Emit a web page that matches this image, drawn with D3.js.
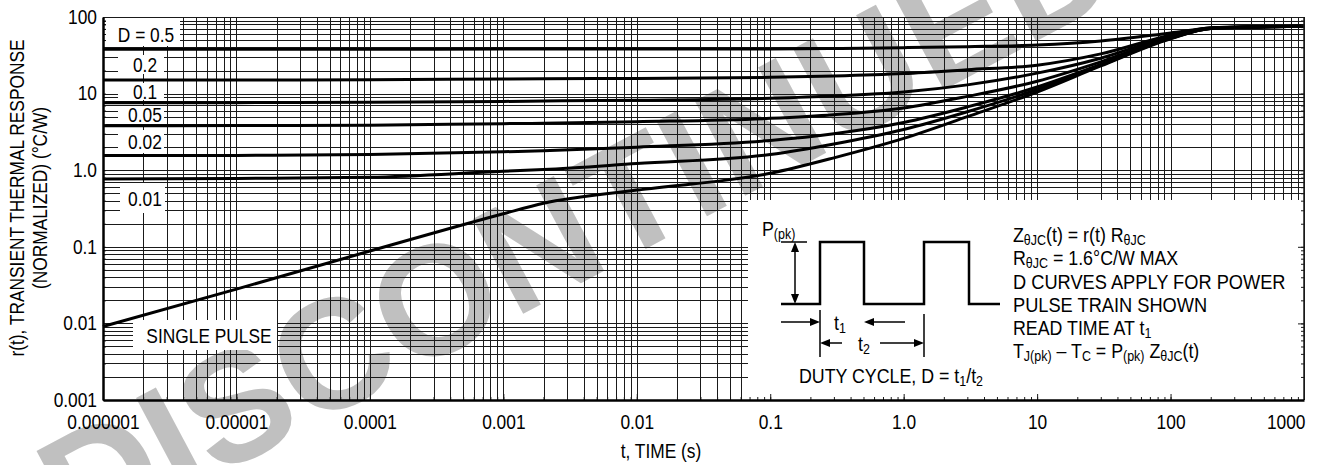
<!DOCTYPE html>
<html>
<head>
<meta charset="utf-8">
<script src="https://cdn.jsdelivr.net/npm/d3@7"></script>
<style>
  body { margin: 0; background: #fff; }
  text { font-family: "Liberation Sans", Arial, sans-serif; fill: #000; }
</style>
</head>
<body>
<div id="chart"></div>
<script>
// time points (s) the curves were read at
const times = [1e-6, 1e-5, 1e-4, 1e-3, 2e-3, 1e-2, 0.1, 0.3, 1, 3, 10, 30, 100, 200, 500, 1000];

// r(t), one list per duty cycle
const d50 = [38, 38, 38, 38.1, 38.1, 38.2, 38.3, 38.8, 39.8, 41, 43, 48.5, 62, 72, 75, 76];
const d20 = [15, 15.05, 15.2, 15.5, 15.6, 15.8, 16.3, 17, 18.3, 20.5, 23.5, 33, 58, 72, 75, 76];
const d10 = [7.6, 7.62, 7.7, 7.9, 8.0, 8.2, 8.7, 9.3, 10.5, 13, 18.5, 29, 56, 72, 74.5, 76];
const d05 = [3.8, 3.82, 3.87, 4.05, 4.1, 4.3, 4.75, 5.3, 6.5, 9.2, 14.5, 26, 54, 71.5, 74.5, 76];
const d02 = [1.55, 1.56, 1.6, 1.74, 1.8, 2.0, 2.45, 3.0, 4.2, 6.7, 12.2, 24, 53, 71, 74, 76];
const d01 = [0.77, 0.78, 0.81, 0.97, 1.02, 1.22, 1.6, 2.2, 3.4, 5.8, 11.3, 23.5, 52.5, 71, 74, 76];
const single = [0.0091, 0.028, 0.088, 0.27, 0.37, 0.55, 0.91, 1.45, 2.6, 5.0, 10.5, 23, 52, 71, 74, 76];

const seriesNames = ["D = 0.5", "0.2", "0.1", "0.05", "0.02", "0.01", "SINGLE PULSE"];
const xTickLabels = ["0.000001", "0.00001", "0.0001", "0.001", "0.01", "0.1", "1.0", "10", "100", "1000"];
const yTickLabels = ["0.001", "0.01", "0.1", "1.0", "10", "100"];

const W = 1321, H = 465;
const margin = {top: 17, right: 17, bottom: 65, left: 103};
const SQ = 0.89; // the original type is a condensed sans

const svg = d3.select("#chart").append("svg")
  .attr("width", W).attr("height", H);

svg.append("rect").attr("width", W).attr("height", H).attr("fill", "#fff");

const x = d3.scaleLog().domain([1e-6, 1e3]).range([margin.left, W - margin.right]);
const y = d3.scaleLog().domain([1e-3, 100]).range([H - margin.bottom, margin.top]);

// squeeze a text horizontally around its own x
function squeeze(sel, s) {
  sel.each(function() {
    const t = d3.select(this);
    const tx = +t.attr("x") || 0;
    const prev = t.attr("transform") || "";
    t.attr("transform", `${prev} translate(${tx},0) scale(${s || SQ},1) translate(${-tx},0)`);
  });
}

// watermark behind the grid
svg.append("text")
  .attr("transform", "translate(602,272) rotate(-28)")
  .attr("text-anchor", "middle")
  .style("font-weight", "bold")
  .style("font-size", "156px")
  .style("fill", "#c0c0c0")
  .text("DISCONTINUED");

// every 1..9 x decade
const gridX = [], gridY = [];
for (let e = -6; e <= 2; e++) for (let k = 1; k <= 9; k++) gridX.push(k * Math.pow(10, e));
gridX.push(1000);
for (let e = -3; e <= 1; e++) for (let k = 1; k <= 9; k++) gridY.push(k * Math.pow(10, e));
gridY.push(100);

const grid = svg.append("g").attr("stroke", "#1a1a1a").attr("stroke-width", 1);
grid.selectAll(".vx").data(gridX).join("line")
  .attr("x1", d => Math.round(x(d)) + 0.5).attr("x2", d => Math.round(x(d)) + 0.5)
  .attr("y1", y(100)).attr("y2", y(1e-3));
grid.selectAll(".hy").data(gridY).join("line")
  .attr("y1", d => Math.round(y(d)) + 0.5).attr("y2", d => Math.round(y(d)) + 0.5)
  .attr("x1", x(1e-6)).attr("x2", x(1e3));

// curves
const allSeries = [d50, d20, d10, d05, d02, d01, single];
const line = d3.line()
  .x((d, i) => x(times[i]))
  .y(d => y(d))
  .curve(d3.curveMonotoneX);

svg.append("g").selectAll("path").data(allSeries).join("path")
  .attr("d", d => line(d))
  .attr("fill", "none")
  .attr("stroke", "#000")
  .attr("stroke-width", 3);

// duty cycle labels on white boxes
const boxes = [
  {x0: 106, y0: 18, w: 74, h: 28, tx: 146, ty: 42},
  {x0: 118, y0: 55, w: 46, h: 19, tx: 145, ty: 72},
  {x0: 118, y0: 83, w: 46, h: 17, tx: 145, ty: 99},
  {x0: 118, y0: 106, w: 46, h: 18, tx: 145, ty: 122},
  {x0: 118, y0: 130, w: 46, h: 23, tx: 145, ty: 149},
  {x0: 120, y0: 183, w: 45, h: 30, tx: 145, ty: 206},
  {x0: 133, y0: 320, w: 144, h: 30, tx: 209, ty: 343}
];
const lab = svg.append("g");
boxes.forEach((b, i) => {
  lab.append("rect").attr("x", b.x0).attr("y", b.y0).attr("width", b.w).attr("height", b.h).attr("fill", "#fff");
  lab.append("text").attr("x", b.tx).attr("y", b.ty).attr("text-anchor", "middle")
    .style("font-size", "19.5px").text(seriesNames[i]).call(squeeze);
});

// inset panel
const ix = 748, iy = 200;
svg.append("rect").attr("x", ix).attr("y", iy)
  .attr("width", x(1e3) - ix).attr("height", y(1e-3) - iy).attr("fill", "#fff");

// ticks (inward) on bottom, right and left
const decX = d3.range(-6, 4).map(e => Math.pow(10, e));
const decY = d3.range(-3, 3).map(e => Math.pow(10, e));
function ticksOnly(axis, tr) {
  svg.append("g").attr("transform", tr).call(axis.tickFormat(""))
    .call(g => g.select(".domain").remove())
    .call(g => g.selectAll("line").attr("stroke", "#1a1a1a"));
}
ticksOnly(d3.axisBottom(x).tickValues(gridX).tickSize(-3), `translate(0,${y(1e-3)})`);
ticksOnly(d3.axisBottom(x).tickValues(decX).tickSize(-6), `translate(0,${y(1e-3)})`);
ticksOnly(d3.axisRight(y).tickValues(gridY).tickSize(-3), `translate(${x(1e3)},0)`);
ticksOnly(d3.axisRight(y).tickValues(decY).tickSize(-6), `translate(${x(1e3)},0)`);
ticksOnly(d3.axisLeft(y).tickValues(gridY).tickSize(-3), `translate(${x(1e-6)},0)`);

// right border
svg.append("line").attr("x1", x(1e3)).attr("x2", x(1e3)).attr("y1", y(100)).attr("y2", y(1e-3))
  .attr("stroke", "#1a1a1a").attr("stroke-width", 1.5);

// main axes with labels
const xAxis = svg.append("g").attr("transform", `translate(0,${y(1e-3)})`)
  .call(d3.axisBottom(x).tickValues(decX).tickSize(0).tickPadding(15)
    .tickFormat((d, i) => xTickLabels[i]));
xAxis.select(".domain").attr("stroke-width", 2.5).attr("stroke", "#000");
xAxis.selectAll("text").style("font-size", "19.5px").style("font-family", null)
  .attr("text-anchor", (d, i) => i === xTickLabels.length - 1 ? "end" : "middle")
  .attr("x", (d, i) => i === xTickLabels.length - 1 ? 1 : 0)
  .call(squeeze);

const yAxis = svg.append("g").attr("transform", `translate(${x(1e-6)},0)`)
  .call(d3.axisLeft(y).tickValues(decY).tickSize(0).tickPadding(6)
    .tickFormat((d, i) => yTickLabels[i]));
yAxis.select(".domain").attr("stroke-width", 2.5).attr("stroke", "#000");
yAxis.selectAll("text").style("font-size", "19.5px").style("font-family", null).call(squeeze);

// axis titles
svg.append("text").attr("x", 661).attr("y", 458).attr("text-anchor", "middle")
  .style("font-size", "19.5px").text("t, TIME (s)").call(squeeze);
svg.append("text").attr("transform", `translate(24,198) rotate(-90) scale(${SQ},1)`).attr("text-anchor", "middle")
  .style("font-size", "19.5px").text("r(t), TRANSIENT THERMAL RESPONSE");
svg.append("text").attr("transform", `translate(47,198) rotate(-90) scale(${SQ},1)`).attr("text-anchor", "middle")
  .style("font-size", "19.5px").text("(NORMALIZED) (°C/W)");

// inset: pulse train sketch
const ins = svg.append("g").attr("stroke", "#000").attr("fill", "none");
const lowY = 304, highY = 242;
ins.append("path").attr("stroke-width", 2.5)
  .attr("d", `M781,${lowY}H820V${highY}H864V${lowY}H924V${highY}H969V${lowY}H1000`);
ins.append("line").attr("x1", 781).attr("x2", 807).attr("y1", highY).attr("y2", highY).attr("stroke-width", 1.5);
ins.append("line").attr("x1", 795).attr("x2", 795).attr("y1", highY + 6).attr("y2", lowY - 6).attr("stroke-width", 1.5);
ins.append("line").attr("x1", 820).attr("x2", 820).attr("y1", 310).attr("y2", 357).attr("stroke-width", 1.5);
ins.append("line").attr("x1", 924).attr("x2", 924).attr("y1", 314).attr("y2", 357).attr("stroke-width", 1.5);
ins.append("line").attr("x1", 781).attr("x2", 812).attr("y1", 322).attr("y2", 322).attr("stroke-width", 1.5);
ins.append("line").attr("x1", 872).attr("x2", 905).attr("y1", 322).attr("y2", 322).attr("stroke-width", 1.5);
ins.append("line").attr("x1", 828).attr("x2", 842).attr("y1", 343).attr("y2", 343).attr("stroke-width", 1.5);
ins.append("line").attr("x1", 880).attr("x2", 916).attr("y1", 343).attr("y2", 343).attr("stroke-width", 1.5);
const heads = [
  [795, highY, "up"], [795, lowY, "down"],
  [820, 322, "right"], [864, 322, "left"],
  [820, 343, "left"], [924, 343, "right"]
];
heads.forEach(([hx, hy, dir]) => {
  const L = 10, Wd = 4;
  let pts;
  if (dir === "right") pts = [[hx, hy], [hx - L, hy - Wd], [hx - L, hy + Wd]];
  if (dir === "left") pts = [[hx, hy], [hx + L, hy - Wd], [hx + L, hy + Wd]];
  if (dir === "up") pts = [[hx, hy], [hx - Wd, hy + L], [hx + Wd, hy + L]];
  if (dir === "down") pts = [[hx, hy], [hx - Wd, hy - L], [hx + Wd, hy - L]];
  svg.append("polygon").attr("points", pts.map(p => p.join(",")).join(" ")).attr("fill", "#000");
});

// text with subscripts: strings are normal runs, {sub} objects are lowered runs
function rich(xp, yp, parts, size, anchor) {
  const t = svg.append("text").attr("x", xp).attr("y", yp).style("font-size", size + "px")
    .attr("text-anchor", anchor || "start");
  let low = false;
  parts.forEach(p => {
    if (typeof p === "string") {
      const s = t.append("tspan").text(p);
      if (low) s.attr("dy", -3);
      low = false;
    } else {
      t.append("tspan").attr("dy", low ? 0 : 3).style("font-size", Math.round(size * 0.68) + "px").text(p.sub);
      low = true;
    }
  });
  return t.call(squeeze);
}
rich(762, 236, ["P", {sub: "(pk)"}], 20);
rich(840, 330, ["t", {sub: "1"}], 20, "middle");
rich(864, 351, ["t", {sub: "2"}], 20, "middle");
rich(891, 383, ["DUTY CYCLE, D = t", {sub: "1"}, "/t", {sub: "2"}], 20, "middle");

const noteY = [242, 265, 289, 312, 335, 358];
rich(1013, noteY[0], ["Z", {sub: "\u03b8JC"}, "(t) = r(t) R", {sub: "\u03b8JC"}], 20);
rich(1013, noteY[1], ["R", {sub: "\u03b8JC"}, " = 1.6\u00b0C/W MAX"], 20);
rich(1013, noteY[2], ["D CURVES APPLY FOR POWER"], 20.5);
rich(1013, noteY[3], ["PULSE TRAIN SHOWN"], 20.5);
rich(1013, noteY[4], ["READ TIME AT t", {sub: "1"}], 20);
rich(1013, noteY[5], ["T", {sub: "J(pk)"}, " \u2013 T", {sub: "C"}, " = P", {sub: "(pk)"}, " Z", {sub: "\u03b8JC"}, "(t)"], 20);
</script>
</body>
</html>
